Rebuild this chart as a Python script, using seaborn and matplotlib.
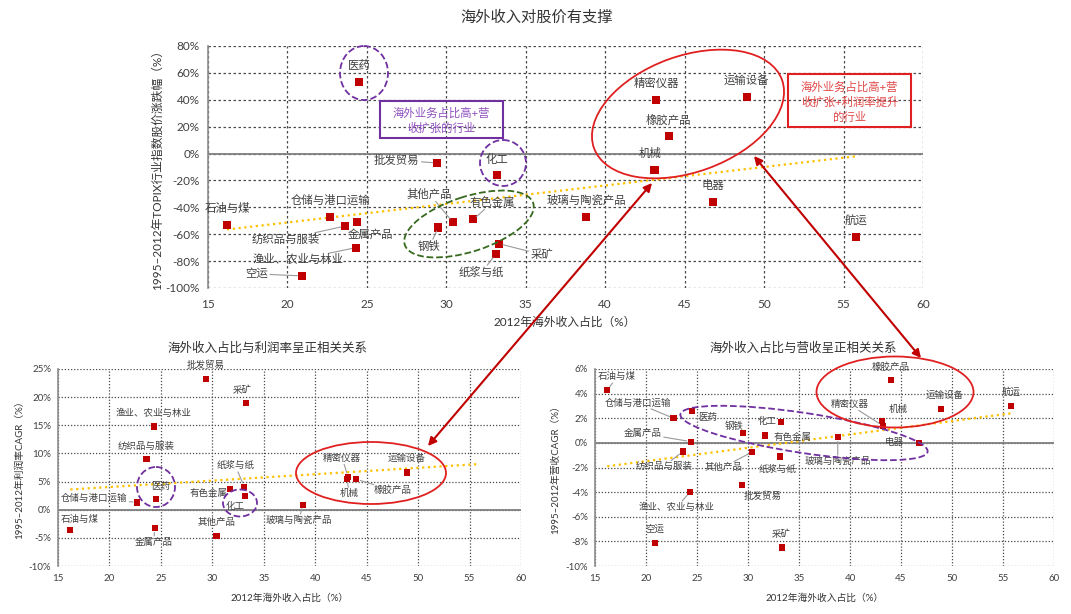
import numpy as np
import pandas as pd
import matplotlib
matplotlib.use('Agg')
import matplotlib.pyplot as plt
import seaborn as sns
from matplotlib.patches import Ellipse, Rectangle
from matplotlib.ticker import FuncFormatter

nan = np.nan
# ---------------- data ----------------
industries = ['石油与煤', '空运', '仓储与港口运输', '纺织品与服装', '渔业、农业与林业', '金属产品',
              '医药', '批发贸易', '钢铁', '其他产品', '有色金属', '纸浆与纸', '化工', '采矿',
              '玻璃与陶瓷产品', '机械', '精密仪器', '橡胶产品', '电器', '运输设备', '航运']
overseas_share = [16.2, 20.9, 22.7, 23.6, 24.3, 24.4, 24.5, 29.4, 29.5, 30.4, 31.7, 33.1, 33.2, 33.3,
                  38.8, 43.1, 43.2, 44.0, 46.8, 48.9, 55.8]
stock_change = [-53, -91, -47, -54, -70, -51, 53, -7, -55, -51, -49, -75, -16, -67,
                -47, -12, 40, 13, -36, 42, -62]
profit_cagr = [-3.6, nan, 1.3, 9.0, 14.8, -3.3, 1.9, 23.2, nan, -4.6, 3.7, 4.1, 2.4, 18.9,
               0.9, 5.5, 5.8, 5.4, nan, 6.6, nan]
revenue_cagr = [4.3, -8.1, 2.0, -0.7, -4.0, 0.1, 2.6, -3.4, 0.8, -0.75, 0.6, -1.1, 1.7, -8.5,
                0.45, 1.8, 1.4, 5.1, 0.0, 2.75, 3.0]
trend_x = [16.2, 55.8]
stock_trend = [-56.5, -2.0]
profit_trend = [3.6, 8.1]
revenue_trend = [-1.9, 2.4]
x_ticks = list(range(15, 61, 5))
stock_ticks = list(range(-100, 81, 20))
profit_ticks = list(range(-10, 26, 5))
revenue_ticks = list(range(-10, 7, 2))

# ---------------- label layout (pixel offsets, leader flag) ----------------
top_offsets = {
    '医药': (0, 17, False), '批发贸易': (-40, 3, True), '化工': (0, 16, False),
    '石油与煤': (0, 16, False), '仓储与港口运输': (0, 17, False), '纺织品与服装': (-59, -13, True),
    '金属产品': (13, -12, False), '渔业、农业与林业': (-58, -12, True), '空运': (-45, 2, True),
    '其他产品': (-23, 28, True), '有色金属': (19, 17, True), '钢铁': (-9, -19, True),
    '采矿': (43, -11, True), '纸浆与纸': (-14, -18, True), '玻璃与陶瓷产品': (0, 17, False),
    '精密仪器': (0, 16, False), '运输设备': (0, 17, False), '橡胶产品': (0, 16, False),
    '机械': (-4, 16, False), '电器': (0, 16, False), '航运': (0, 16, False)}
bl_offsets = {
    '批发贸易': (0, 14, False), '采矿': (-4, 13, False), '渔业、农业与林业': (0, 13, False),
    '纺织品与服装': (0, 13, False), '医药': (5, 13, False), '仓储与港口运输': (-43, 4, True),
    '石油与煤': (9, 11, False), '金属产品': (-1, -14, True), '有色金属': (-21, -5, False),
    '纸浆与纸': (-9, 21, True), '化工': (-10, -10, False), '其他产品': (0, 13, False),
    '玻璃与陶瓷产品': (-4, -16, True), '精密仪器': (-6, 19, True), '机械': (2, -15, True),
    '橡胶产品': (36, -11, True), '运输设备': (0, 14, False)}
br_offsets = {
    '石油与煤': (10, 13, True), '仓储与港口运输': (-36, 15, True), '医药': (16, -7, False),
    '钢铁': (-9, 7, False), '化工': (-14, 1, False), '有色金属': (27, -2, False),
    '金属产品': (-48, 8, True), '纺织品与服装': (-19, -15, True), '其他产品': (-29, -15, True),
    '纸浆与纸': (-2, -13, False), '批发贸易': (21, -12, False), '渔业、农业与林业': (-13, -15, True),
    '空运': (0, 13, False), '采矿': (0, 13, False), '玻璃与陶瓷产品': (0, -24, True),
    '橡胶产品': (0, 13, False), '运输设备': (4, 14, False), '航运': (0, 14, False),
    '精密仪器': (-33, 21, True), '机械': (17, 11, False), '电器': (-25, 0, False)}

sns.set_theme(style='white')
plt.rcParams['font.family'] = ['Lato', 'Noto Sans CJK SC', 'DejaVu Sans']
plt.rcParams['axes.unicode_minus'] = False

W, H = 1071, 614
fig = plt.figure(figsize=(W / 100, H / 100), dpi=100)
CJK = ['Noto Sans CJK SC', 'DejaVu Sans']


def px_axes(l, t, r, b):
    return fig.add_axes([l / W, 1 - b / H, (r - l) / W, (b - t) / H])


def panel(ax, values, ticks, trend, offsets, label_fs, tick_fs, ms, grid_ls, xpad, ypad):
    df = pd.DataFrame({'industry': industries, 'share': overseas_share, 'value': values}).dropna()
    ax.axhline(0, color='#7f7f7f', lw=1.3, zorder=1)
    sns.lineplot(x=trend_x, y=trend, ax=ax, color='#FFC000', lw=1.6,
                 linestyle=(0, (1, 1.6)), zorder=2)
    sns.scatterplot(data=df, x='share', y='value', ax=ax, marker='s', s=ms,
                    color='#C00000', edgecolor='none', zorder=3, legend=False)
    ax.set_xlim(15, 60)
    ax.set_ylim(ticks[0], ticks[-1])
    ax.set_xticks(x_ticks)
    ax.set_yticks(ticks)
    ax.yaxis.set_major_formatter(FuncFormatter(lambda v, p: f'{v:.0f}%'))
    ax.grid(True, color='#4a4a4a', ls=grid_ls, lw=0.9)
    for s in ['top', 'right', 'bottom']:
        ax.spines[s].set_visible(False)
    ax.spines['left'].set_color('#8c8c8c')
    ax.spines['left'].set_linewidth(1.2)
    ax.tick_params(length=0, labelsize=tick_fs, colors='#404040')
    ax.tick_params(axis='x', pad=xpad)
    ax.tick_params(axis='y', pad=ypad)
    ax.set_xlabel('')
    ax.set_ylabel('')
    ax.set_facecolor('white')
    for _, r in df.iterrows():
        dx, dy, leader = offsets[r['industry']]
        kw = {}
        if leader:
            kw['arrowprops'] = dict(arrowstyle='-', color='#9a9a9a', lw=0.8, shrinkA=1, shrinkB=3)
        ax.annotate(r['industry'], xy=(r['share'], r['value']), xytext=(dx, dy),
                    textcoords='offset pixels', ha='center', va='center',
                    fontsize=label_fs, color='#404040', family=CJK,
                    bbox=dict(boxstyle='square,pad=0.05', fc='none', ec='none'), zorder=4, **kw)


ax_top = px_axes(208, 46, 923, 288)
panel(ax_top, stock_change, stock_ticks, stock_trend, top_offsets, 8.2, 8.5, 34, (0, (2, 2)), 8, 6)
ax_bl = px_axes(58, 369, 521, 566)
panel(ax_bl, profit_cagr, profit_ticks, profit_trend, bl_offsets, 6.8, 7, 20, (0, (1, 1.5)), 6, 5)
ax_br = px_axes(595, 369, 1054, 566)
panel(ax_br, revenue_cagr, revenue_ticks, revenue_trend, br_offsets, 6.8, 7, 20, (0, (1, 1.5)), 6, 5)

# titles and axis labels
fig.text(537 / W, 1 - 17 / H, '海外收入对股价有支撑', ha='center', va='center', fontsize=11,
         color='#333333', family=CJK)
fig.text(268 / W, 1 - 348 / H, '海外收入占比与利润率呈正相关关系', ha='center', va='center',
         fontsize=9, color='#333333', family=CJK)
fig.text(803 / W, 1 - 348 / H, '海外收入占比与营收呈正相关关系', ha='center', va='center',
         fontsize=9, color='#333333', family=CJK)
fig.text(565 / W, 1 - 322 / H, '2012年海外收入占比（%）', ha='center', va='center', fontsize=8.5,
         color='#333333')
fig.text(290 / W, 1 - 598 / H, '2012年海外收入占比（%）', ha='center', va='center', fontsize=7,
         color='#333333')
fig.text(825 / W, 1 - 598 / H, '2012年海外收入占比（%）', ha='center', va='center', fontsize=7,
         color='#333333')
fig.text(157 / W, 1 - 167 / H, '1995–2012年TOPIX行业指数股价涨跌幅（%）', ha='center', va='center',
         rotation=90, fontsize=8.5, color='#333333')
fig.text(19 / W, 1 - 467 / H, '1995–2012年利润率CAGR（%）', ha='center', va='center',
         rotation=90, fontsize=7, color='#333333')
fig.text(556 / W, 1 - 467 / H, '1995–2012年营收CAGR（%）', ha='center', va='center',
         rotation=90, fontsize=7, color='#333333')

# ---------------- overlay annotations in pixel space ----------------
ov = fig.add_axes([0, 0, 1, 1], zorder=10)
ov.set_xlim(0, W)
ov.set_ylim(H, 0)
ov.axis('off')
ov.patch.set_alpha(0)

purple = '#7030A0'
green = '#376A1E'
red = '#E02020'
dark_red = '#C00000'
ellipses = [
    ((364, 73), 48, 54, 0, purple, '--'),
    ((503, 163), 46, 46, 0, purple, '--'),
    ((469, 224), 135, 55, -18, green, '--'),
    ((688, 114), 200, 116, -20, red, '-'),
    ((156, 487), 38, 40, 0, purple, '--'),
    ((240, 503), 34, 27, 0, purple, '--'),
    ((371, 473), 150, 62, 0, red, '-'),
    ((804, 433), 250, 40, 8.6, purple, '--'),
    ((895, 392), 157, 71, 0, red, '-'),
]
for c, w, h, a, col, ls in ellipses:
    ov.add_patch(Ellipse(c, w, h, angle=a, fill=False, ec=col, ls=ls, lw=1.3))

ov.add_patch(Rectangle((380, 101), 123, 37, fill=False, ec=purple, lw=1.5))
ov.text(441.5, 113, '海外业务占比高+营', ha='center', va='center', fontsize=8.2,
        color='#9050C0', family=CJK)
ov.text(441.5, 128, '收扩张的行业', ha='center', va='center', fontsize=8.2,
        color='#9050C0', family=CJK)
ov.add_patch(Rectangle((788, 74), 123, 53, fill=False, ec=red, lw=1.5))
for i, line in enumerate(['海外业务占比高+营', '收扩张+利润率提升', '的行业']):
    ov.text(849.5, 87 + 15 * i, line, ha='center', va='center',
            fontsize=8.2, color='#E04848', family=CJK)

for p1, p2 in [((652, 183), (428, 446)), ((754, 156), (921, 358))]:
    ov.annotate('', xy=p2, xytext=p1,
                arrowprops=dict(arrowstyle='<|-|>', color=dark_red, lw=1.5,
                                mutation_scale=12, shrinkA=0, shrinkB=0))

fig.savefig('out.png', dpi=100, facecolor='white')
